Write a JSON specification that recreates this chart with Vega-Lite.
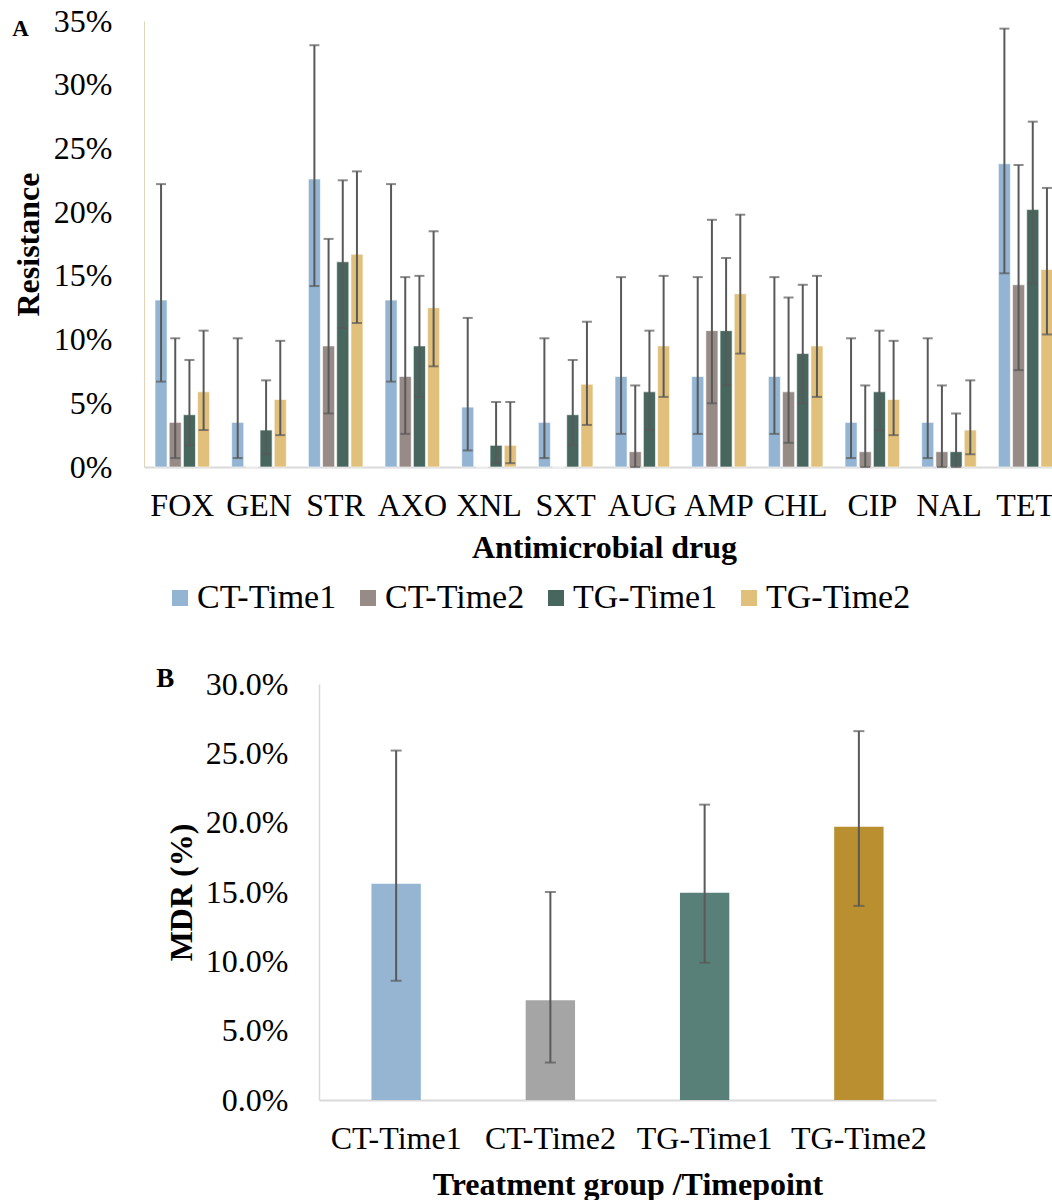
{
  "$schema": "https://vega.github.io/schema/vega-lite/v6.json",
  "autosize": {"type": "pad"},
  "padding": {"left": 12, "top": 5, "right": -11, "bottom": 0},
  "background": "white",
  "config": {
    "view": {"stroke": null},
    "font": "Liberation Serif",
    "axis": {"labelColor": "black", "titleColor": "black", "grid": false, "ticks": false, "labelFont": "Liberation Serif", "titleFont": "Liberation Serif"},
    "legend": {"labelFont": "Liberation Serif", "labelColor": "black"},
    "title": {"font": "Liberation Serif", "color": "black"}
  },
  "datasets": {
    "resist": [
      {"drug": "FOX", "group": "CT-Time1", "value": 0.131, "lo": 0.067, "hi": 0.222},
      {"drug": "FOX", "group": "CT-Time2", "value": 0.035, "lo": 0.007, "hi": 0.101},
      {"drug": "FOX", "group": "TG-Time1", "value": 0.041, "lo": 0.017, "hi": 0.084},
      {"drug": "FOX", "group": "TG-Time2", "value": 0.059, "lo": 0.029, "hi": 0.107},
      {"drug": "GEN", "group": "CT-Time1", "value": 0.035, "lo": 0.007, "hi": 0.101},
      {"drug": "GEN", "group": "CT-Time2", "value": 0.0},
      {"drug": "GEN", "group": "TG-Time1", "value": 0.029, "lo": 0.010, "hi": 0.068},
      {"drug": "GEN", "group": "TG-Time2", "value": 0.053, "lo": 0.025, "hi": 0.099},
      {"drug": "STR", "group": "CT-Time1", "value": 0.226, "lo": 0.142, "hi": 0.331},
      {"drug": "STR", "group": "CT-Time2", "value": 0.095, "lo": 0.042, "hi": 0.179},
      {"drug": "STR", "group": "TG-Time1", "value": 0.161, "lo": 0.109, "hi": 0.225},
      {"drug": "STR", "group": "TG-Time2", "value": 0.167, "lo": 0.113, "hi": 0.232},
      {"drug": "AXO", "group": "CT-Time1", "value": 0.131, "lo": 0.067, "hi": 0.222},
      {"drug": "AXO", "group": "CT-Time2", "value": 0.071, "lo": 0.026, "hi": 0.149},
      {"drug": "AXO", "group": "TG-Time1", "value": 0.095, "lo": 0.055, "hi": 0.150},
      {"drug": "AXO", "group": "TG-Time2", "value": 0.125, "lo": 0.079, "hi": 0.185},
      {"drug": "XNL", "group": "CT-Time1", "value": 0.047, "lo": 0.013, "hi": 0.117},
      {"drug": "XNL", "group": "CT-Time2", "value": 0.0},
      {"drug": "XNL", "group": "TG-Time1", "value": 0.017, "lo": 0.003, "hi": 0.051},
      {"drug": "XNL", "group": "TG-Time2", "value": 0.017, "lo": 0.003, "hi": 0.051},
      {"drug": "SXT", "group": "CT-Time1", "value": 0.035, "lo": 0.007, "hi": 0.101},
      {"drug": "SXT", "group": "CT-Time2", "value": 0.0},
      {"drug": "SXT", "group": "TG-Time1", "value": 0.041, "lo": 0.017, "hi": 0.084},
      {"drug": "SXT", "group": "TG-Time2", "value": 0.065, "lo": 0.033, "hi": 0.114},
      {"drug": "AUG", "group": "CT-Time1", "value": 0.071, "lo": 0.026, "hi": 0.149},
      {"drug": "AUG", "group": "CT-Time2", "value": 0.012, "lo": 0.0, "hi": 0.064},
      {"drug": "AUG", "group": "TG-Time1", "value": 0.059, "lo": 0.029, "hi": 0.107},
      {"drug": "AUG", "group": "TG-Time2", "value": 0.095, "lo": 0.055, "hi": 0.150},
      {"drug": "AMP", "group": "CT-Time1", "value": 0.071, "lo": 0.026, "hi": 0.149},
      {"drug": "AMP", "group": "CT-Time2", "value": 0.107, "lo": 0.050, "hi": 0.194},
      {"drug": "AMP", "group": "TG-Time1", "value": 0.107, "lo": 0.064, "hi": 0.164},
      {"drug": "AMP", "group": "TG-Time2", "value": 0.136, "lo": 0.089, "hi": 0.198},
      {"drug": "CHL", "group": "CT-Time1", "value": 0.071, "lo": 0.026, "hi": 0.149},
      {"drug": "CHL", "group": "CT-Time2", "value": 0.059, "lo": 0.019, "hi": 0.133},
      {"drug": "CHL", "group": "TG-Time1", "value": 0.089, "lo": 0.050, "hi": 0.143},
      {"drug": "CHL", "group": "TG-Time2", "value": 0.095, "lo": 0.055, "hi": 0.150},
      {"drug": "CIP", "group": "CT-Time1", "value": 0.035, "lo": 0.007, "hi": 0.101},
      {"drug": "CIP", "group": "CT-Time2", "value": 0.012, "lo": 0.0, "hi": 0.064},
      {"drug": "CIP", "group": "TG-Time1", "value": 0.059, "lo": 0.029, "hi": 0.107},
      {"drug": "CIP", "group": "TG-Time2", "value": 0.053, "lo": 0.025, "hi": 0.099},
      {"drug": "NAL", "group": "CT-Time1", "value": 0.035, "lo": 0.007, "hi": 0.101},
      {"drug": "NAL", "group": "CT-Time2", "value": 0.012, "lo": 0.0, "hi": 0.064},
      {"drug": "NAL", "group": "TG-Time1", "value": 0.012, "lo": 0.0, "hi": 0.042},
      {"drug": "NAL", "group": "TG-Time2", "value": 0.029, "lo": 0.010, "hi": 0.068},
      {"drug": "TET", "group": "CT-Time1", "value": 0.238, "lo": 0.152, "hi": 0.344},
      {"drug": "TET", "group": "CT-Time2", "value": 0.143, "lo": 0.076, "hi": 0.237},
      {"drug": "TET", "group": "TG-Time1", "value": 0.202, "lo": 0.144, "hi": 0.271},
      {"drug": "TET", "group": "TG-Time2", "value": 0.155, "lo": 0.104, "hi": 0.219}
    ],
    "mdr": [
      {"grp": "CT-Time1", "value": 0.156, "lo": 0.086, "hi": 0.252},
      {"grp": "CT-Time2", "value": 0.072, "lo": 0.027, "hi": 0.150},
      {"grp": "TG-Time1", "value": 0.1495, "lo": 0.099, "hi": 0.213},
      {"grp": "TG-Time2", "value": 0.197, "lo": 0.140, "hi": 0.266}
    ]
  },
  "resolve": {"scale": {"color": "independent"}, "legend": {"color": "independent"}},
  "spacing": 50,
  "vconcat": [
    {
      "title": {"text": "A", "anchor": "start", "frame": "bounds", "fontSize": 23, "fontWeight": "bold", "offset": -36},
      "width": 920,
      "height": 446,
      "data": {"name": "resist"},
      "encoding": {
        "x": {
          "field": "drug", "type": "nominal",
          "sort": ["FOX", "GEN", "STR", "AXO", "XNL", "SXT", "AUG", "AMP", "CHL", "CIP", "NAL", "TET"],
          "scale": {"paddingInner": 0.26, "paddingOuter": 0.13},
          "axis": {"title": "Antimicrobial drug", "labelAngle": 0, "labelFontSize": 32, "labelPadding": 23, "domainColor": "#d9d9d9", "domainWidth": 2, "titleFontSize": 32, "titleFontWeight": "bold", "titlePadding": 11}
        },
        "xOffset": {
          "field": "group", "type": "nominal",
          "sort": ["CT-Time1", "CT-Time2", "TG-Time1", "TG-Time2"],
          "scale": {"paddingInner": 0.15, "paddingOuter": 0.075}
        }
      },
      "layer": [
        {
          "mark": {"type": "bar", "stroke": "white", "strokeWidth": 0.6},
          "encoding": {
            "y": {
              "field": "value", "type": "quantitative",
              "scale": {"domain": [0, 0.35], "nice": false},
              "axis": {"title": "Resistance", "format": "0%", "values": [0, 0.05, 0.1, 0.15, 0.2, 0.25, 0.3, 0.35], "labelFontSize": 32, "labelPadding": 32, "labelFlush": false, "labelOverlap": false, "domainColor": "#e3d5b5", "domainWidth": 1, "titleFontSize": 32, "titleFontWeight": "bold", "titlePadding": 8}
            },
            "color": {
              "field": "group", "type": "nominal",
              "sort": ["CT-Time1", "CT-Time2", "TG-Time1", "TG-Time2"],
              "scale": {"range": ["#93b5d3", "#978b88", "#46665e", "#e1c07b"]},
              "legend": {"orient": "none", "legendX": 19, "legendY": 560, "direction": "horizontal", "title": null, "symbolType": "square", "symbolSize": 256, "symbolStrokeWidth": 0, "labelFontSize": 34, "columnPadding": 14, "labelOffset": 0, "padding": 0}
            }
          }
        },
        {
          "mark": {"type": "rule", "color": "#595959", "strokeWidth": 2},
          "encoding": {"y": {"field": "lo", "type": "quantitative"}, "y2": {"field": "hi"}}
        },
        {
          "mark": {"type": "tick", "color": "#595959", "thickness": 2, "size": 10},
          "encoding": {"y": {"field": "hi", "type": "quantitative"}}
        },
        {
          "mark": {"type": "tick", "color": "#595959", "thickness": 2, "size": 10},
          "encoding": {"y": {"field": "lo", "type": "quantitative"}}
        }
      ]
    },
    {
      "spacing": 0,
      "hconcat": [
        {
          "width": 12,
          "height": 10,
          "data": {"values": []},
          "mark": "point"
        },
        {
          "title": {"text": "B", "anchor": "start", "frame": "bounds", "fontSize": 27, "fontWeight": "bold", "offset": -25, "dx": -9},
          "width": 617,
          "height": 416,
          "data": {"name": "mdr"},
          "encoding": {
            "x": {
              "field": "grp", "type": "nominal",
              "sort": ["CT-Time1", "CT-Time2", "TG-Time1", "TG-Time2"],
              "scale": {"paddingInner": 0.68, "paddingOuter": 0.34},
              "axis": {"title": "Treatment group /Timepoint", "labelAngle": 0, "labelFontSize": 32, "labelPadding": 23, "domainColor": "#d9d9d9", "domainWidth": 2, "titleFontSize": 32, "titleFontWeight": "bold", "titlePadding": 15}
            }
          },
          "layer": [
            {
              "mark": {"type": "bar"},
              "encoding": {
                "y": {
                  "field": "value", "type": "quantitative",
                  "scale": {"domain": [0, 0.3], "nice": false},
                  "axis": {"title": "MDR (%)", "format": ".1%", "values": [0, 0.05, 0.1, 0.15, 0.2, 0.25, 0.3], "labelFontSize": 32, "labelPadding": 31, "labelFlush": false, "labelOverlap": false, "domainColor": "#d9d9d9", "domainWidth": 1.5, "titleFontSize": 32, "titleFontWeight": "bold", "titlePadding": 7}
                },
                "color": {
                  "field": "grp", "type": "nominal",
                  "sort": ["CT-Time1", "CT-Time2", "TG-Time1", "TG-Time2"],
                  "scale": {"range": ["#95b5d2", "#a5a5a5", "#588078", "#b98f2f"]},
                  "legend": null
                }
              }
            },
            {
              "mark": {"type": "rule", "color": "#595959", "strokeWidth": 2},
              "encoding": {"y": {"field": "lo", "type": "quantitative"}, "y2": {"field": "hi"}}
            },
            {
              "mark": {"type": "tick", "color": "#595959", "thickness": 2, "size": 11},
              "encoding": {"y": {"field": "hi", "type": "quantitative"}}
            },
            {
              "mark": {"type": "tick", "color": "#595959", "thickness": 2, "size": 11},
              "encoding": {"y": {"field": "lo", "type": "quantitative"}}
            }
          ]
        }
      ]
    }
  ]
}
